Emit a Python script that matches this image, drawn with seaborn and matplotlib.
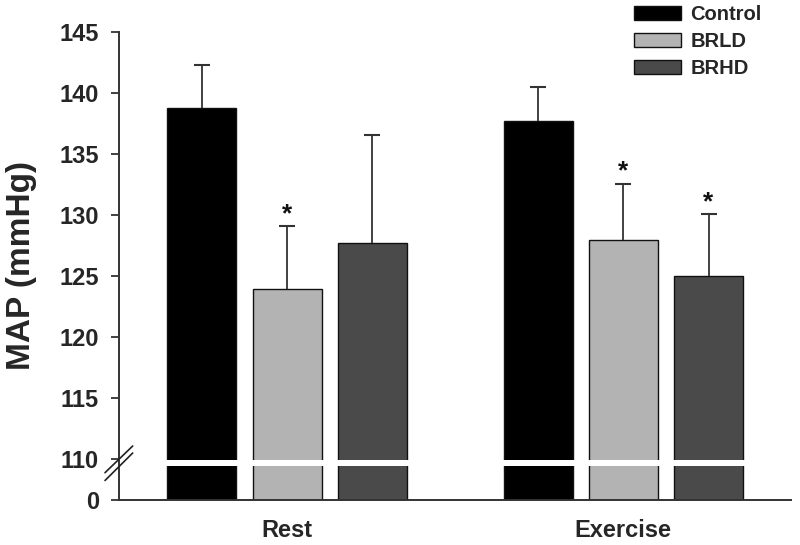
import numpy as np
import pandas as pd
import matplotlib
matplotlib.use("Agg")
import matplotlib.pyplot as plt
from matplotlib.lines import Line2D
from matplotlib.patches import Patch
import seaborn as sns

# ---- data ----
conditions = ["Rest", "Exercise"]
groups = ["Control", "BRLD", "BRHD"]
control_mean = [138.8, 137.7]
brld_mean = [124.0, 128.0]
brhd_mean = [127.7, 125.0]
control_sd = [3.5, 2.8]
brld_sd = [5.1, 4.6]
brhd_sd = [8.9, 5.1]
control_sig = [False, False]
brld_sig = [True, True]
brhd_sig = [False, True]
ytick_values = [0, 110, 115, 120, 125, 130, 135, 140, 145]
colors = ["#000000", "#b3b3b3", "#4a4a4a"]

means = {"Control": control_mean, "BRLD": brld_mean, "BRHD": brhd_mean}
sds = {"Control": control_sd, "BRLD": brld_sd, "BRHD": brhd_sd}
sigs = {"Control": control_sig, "BRLD": brld_sig, "BRHD": brhd_sig}

rows = []
for g in groups:
    for i, c in enumerate(conditions):
        rows.append({"Condition": c, "Group": g, "MAP": means[g][i]})
df = pd.DataFrame(rows)

sns.set_style("white")
plt.rcParams["font.family"] = ["Liberation Sans", "DejaVu Sans"]
plt.rcParams["font.weight"] = "bold"

W, H = 800, 545
fig = plt.figure(figsize=(W / 100, H / 100), dpi=100)
ax = fig.add_axes([119 / W, 1 - 500 / H, (791.5 - 119) / W, (500 - 32.3) / H])

# broken y scale: 0-110 compressed, 110-145 linear
k = 40.7 / 12.2 / 110.0


def fwd(y):
    y = np.asarray(y, dtype=float)
    return np.where(y < 110, y * k, 110 * k + (y - 110))


def inv(u):
    u = np.asarray(u, dtype=float)
    return np.where(u < 110 * k, u / k, u - 110 * k + 110)


ax.set_yscale("function", functions=(fwd, inv))

sns.barplot(data=df, x="Condition", y="MAP", hue="Group", order=conditions,
            hue_order=groups, palette=colors, errorbar=None, width=0.76,
            gap=0.19, edgecolor="#111111", linewidth=1.0, legend=False, ax=ax)

ax.set_ylim(0, 145)
ax.set_xlim(-0.5, 1.5)
ax.set_yticks(ytick_values)
ax.set_yticklabels([str(v) for v in ytick_values])

# error bars (upper only) and significance marks
for g, cont in zip(groups, ax.containers):
    xs = [b.get_x() + b.get_width() / 2 for b in cont]
    m = means[g]
    s = sds[g]
    eb = ax.errorbar(xs, m, yerr=[np.zeros(len(s)), s], fmt="none", ecolor="#333333",
                     elinewidth=1.3, capsize=5.5, capthick=1.5, zorder=3)
    caps = eb[1]
    if len(caps) > 1:
        caps[0].set_visible(False)
    for xi, mi, si, sg in zip(xs, m, s, sigs[g]):
        if sg:
            ax.annotate("*", xy=(xi, mi + si), xytext=(0, 3.5),
                        textcoords="offset points", ha="center", va="baseline",
                        fontsize=19, fontweight="bold", color="#111111")

# white break stripe across bars
ax.axhspan(92, 108.3, color="white", lw=0, zorder=1.6)

for side in ["top", "right"]:
    ax.spines[side].set_visible(False)
for side in ["left", "bottom"]:
    ax.spines[side].set_color("#333333")
    ax.spines[side].set_linewidth(1.4)
    ax.spines[side].set_zorder(4)

ax.tick_params(axis="y", direction="out", length=5.5, width=1.3, color="#333333",
               pad=9, labelsize=17, left=True)
ax.tick_params(axis="x", length=0, pad=14, labelsize=17)
for t in ax.get_xticklabels() + ax.get_yticklabels():
    t.set_fontweight("bold")

ax.set_xlabel("")
ax.set_ylabel("")
fig.text(22 / W, 1 - 265 / H, "MAP (mmHg)", rotation=90, ha="center", va="center",
         fontsize=24, fontweight="bold")

# axis break marks
for (x0, y0, x1, y1) in [(105, 472.7, 132.7, 446.0), (105, 480.5, 132.7, 453.0)]:
    fig.add_artist(Line2D([x0 / W, x1 / W], [1 - y0 / H, 1 - y1 / H],
                          transform=fig.transFigure, color="#222222", lw=1.2))

handles = [Patch(facecolor=c, edgecolor="#111111", linewidth=1.0) for c in colors]
leg = ax.legend(handles, groups, loc="upper left", bbox_to_anchor=(634 / W, 1 - 5 / H),
                bbox_transform=fig.transFigure, frameon=False, borderpad=0,
                borderaxespad=0, handlelength=2.35, handleheight=0.75,
                handletextpad=0.45, labelspacing=0.4,
                prop={"size": 14.5, "weight": "bold"})

fig.savefig("out.png", dpi=100)
